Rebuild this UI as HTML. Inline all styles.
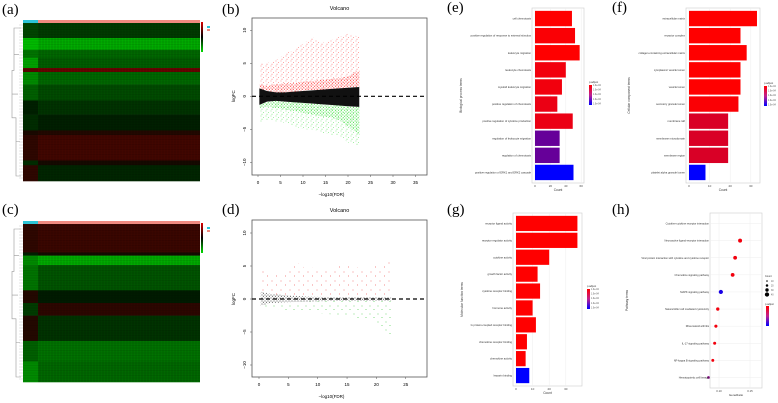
<!DOCTYPE html>
<html><head><meta charset="utf-8"><style>
html,body{margin:0;padding:0;background:#fff;}
svg{display:block;font-family:"Liberation Sans",sans-serif;}
.lab{font-family:"Liberation Serif",serif;font-size:15px;}
</style></head><body>
<svg id="fig" width="778" height="403" viewBox="0 0 778 403" xmlns="http://www.w3.org/2000/svg">
<defs>
<pattern id="pr" width="5" height="5" patternUnits="userSpaceOnUse"><circle cx="1" cy="1" r="0.4" fill="#f33"/><circle cx="3.5" cy="2.5" r="0.4" fill="#f33"/><circle cx="2" cy="4.2" r="0.4" fill="#f33"/></pattern>
<pattern id="prd" width="3" height="3" patternUnits="userSpaceOnUse"><circle cx="1" cy="1" r="0.5" fill="#f11"/><circle cx="2.4" cy="2.2" r="0.5" fill="#f11"/></pattern>
<pattern id="pg" width="5" height="5" patternUnits="userSpaceOnUse"><circle cx="1" cy="1" r="0.4" fill="#3d3"/><circle cx="3.5" cy="2.5" r="0.4" fill="#3d3"/><circle cx="2" cy="4.2" r="0.4" fill="#3d3"/></pattern>
<pattern id="pgd" width="3" height="3" patternUnits="userSpaceOnUse"><circle cx="1" cy="1" r="0.5" fill="#2d2"/><circle cx="2.4" cy="2.2" r="0.5" fill="#2d2"/></pattern>
<pattern id="prs" width="9" height="9" patternUnits="userSpaceOnUse"><circle cx="2" cy="2" r="0.45" fill="#e55"/><circle cx="6.5" cy="6" r="0.45" fill="#e55"/></pattern>
<pattern id="pgs" width="8" height="8" patternUnits="userSpaceOnUse"><circle cx="2" cy="2" r="0.45" fill="#4c4"/><circle cx="6" cy="5.5" r="0.45" fill="#4c4"/></pattern>
<pattern id="pbk" width="3" height="3" patternUnits="userSpaceOnUse"><circle cx="1" cy="1" r="0.5" fill="#222"/><circle cx="2.4" cy="2.2" r="0.5" fill="#222"/></pattern>
<linearGradient id="pgrad" x1="0" y1="0" x2="0" y2="1"><stop offset="0" stop-color="#f00"/><stop offset="0.5" stop-color="#c0208f"/><stop offset="1" stop-color="#00f"/></linearGradient>
<linearGradient id="hgrad" x1="0" y1="0" x2="0" y2="1"><stop offset="0" stop-color="#d00"/><stop offset="0.5" stop-color="#000"/><stop offset="1" stop-color="#0d0"/></linearGradient>
</defs>
<text class="lab" x="2" y="14">(a)</text>
<text class="lab" x="2" y="214">(c)</text>
<text class="lab" x="222" y="14">(b)</text>
<text class="lab" x="222" y="214">(d)</text>
<text class="lab" x="447" y="12">(e)</text>
<text class="lab" x="612" y="12">(f)</text>
<text class="lab" x="447" y="214">(g)</text>
<text class="lab" x="612" y="214">(h)</text>
</svg>
<script>
// ---------- data ----------
const heatAStops=[0,0.095,0.17,0.22,0.285,0.31,0.39,0.49,0.58,0.68,0.71,0.87,0.9,1];
const heatAVals=[-0.3,-0.85,-0.55,-0.5,0.7,-0.55,-0.4,-0.25,-0.1,0.2,0.45,0.05,-0.15];
const heatANormal=[-0.35,-0.9,-0.6,-0.8,0.6,-0.7,-0.5,-0.1,-0.2,0.1,0.3,-0.2,0.3];
const heatCStops=[0,0.18,0.2,0.26,0.42,0.5,0.58,0.74,0.87,1];
const heatCVals=[0.4,0,-0.85,-0.45,-0.05,0.3,-0.25,-0.6,-0.55];
const heatCNormal=[0.3,-0.1,-0.7,-0.6,0.2,-0.3,0.2,-0.5,-0.7];
const volBx=[0.3,2,4,6,8,10,12,14,16,18,20,22.5];
const volBRedTop=[5,5,5.5,6.5,7,8,9,8,8.5,9,9.5,9];
const volBRedDense=[1.8,1.6,1.8,2,2,2.2,2.3,2.5,2.6,2.8,3,4];
const volBBlackTop=[1.2,0.8,0.6,0.6,0.7,0.8,0.9,1,1.1,1.2,1.3,1.4];
const volBBlackBot=[-1.3,-0.8,-0.7,-0.8,-0.9,-1,-1.1,-1.2,-1.3,-1.4,-1.5,-1.6];
const volBGreenDense=[-1.8,-1.5,-1.8,-2,-2.2,-2.5,-2.8,-3,-3.2,-3.6,-4.5,-6];
const volBGreenBot=[-4,-3.5,-3.8,-4,-4.5,-5,-5,-5.5,-5.8,-6,-7,-7.5];
const volDx=[0.3,2,4,6,8,10,12,14,16,18,20,22.5];
const volDRedTop=[5.5,3.5,4,6,4.5,5,4,5.5,5,4.5,5,6];
const volDBlackTop=[1.1,0.8,0.6,0.5,0.4,0.35,0.3,0.3,0.3,0.3,0.3,0.3];
const volDBlackBot=[-1,-0.6,-0.5,-0.45,-0.4,-0.35,-0.3,-0.3,-0.3,-0.3,-0.3,-0.3];
const volDGreenBot=[-1.5,-1.4,-1.6,-1.8,-2,-2.2,-2.3,-2.5,-2.8,-3,-3.5,-5.5];
const eTerms=["cell chemotaxis","positive regulation of response to external stimulus","leukocyte migration","leukocyte chemotaxis","myeloid leukocyte migration","positive regulation of chemotaxis","positive regulation of cytokine production","regulation of leukocyte migration","regulation of chemotaxis","positive regulation of ERK1 and ERK2 cascade"];
const eCounts=[48,52,58,40,35,29,49,32,32,50];
const ePadj=[0,0.02,0,0.05,0.05,0.08,0.08,0.6,0.6,1];
const eTicks=[0,20,40,60];
const fTerms=["extracellular matrix","receptor complex","collagen-containing extracellular matrix","cytoplasmic vesicle lumen","vesicle lumen","secretory granule lumen","membrane raft","membrane microdomain","membrane region","platelet alpha granule lumen"];
const fCounts=[33,25,28,25,25,24,19,19,19,8];
const fPadj=[0,0,0,0,0,0.02,0.15,0.15,0.15,1];
const fTicks=[0,10,20,30];
const gTerms=["receptor ligand activity","receptor regulator activity","cytokine activity","growth factor activity","cytokine receptor binding","hormone activity","G protein-coupled receptor binding","chemokine receptor binding","chemokine activity","heparin binding"];
const gCounts=[37,37,20,13,14.5,10,12,6.6,5.8,8];
const gPadj=[0,0,0,0,0,0,0,0,0,1];
const gTicks=[0,10,20,30];
const hTerms=["Cytokine-cytokine receptor interaction","Neuroactive ligand-receptor interaction","Viral protein interaction with cytokine and cytokine receptor","Chemokine signaling pathway","MAPK signaling pathway","Natural killer cell mediated cytotoxicity","Rheumatoid arthritis","IL-17 signaling pathway","NF-kappa B signaling pathway","Hematopoietic cell lineage"];
const hRatio=[0.235,0.134,0.126,0.122,0.103,0.098,0.095,0.093,0.09,0.083];
const hCount=[50,22,20,20,25,16,14,13,12,10];
const hPadj=[0.05,0.05,0.05,0.05,0.9,0.05,0.05,0.05,0.05,0.5];
const hTicks=[0.1,0.15,0.2];
const hTickLabels=["0.10","0.15","0.20"];

// ---------- helpers ----------
const NS="http://www.w3.org/2000/svg";
const svg=document.getElementById('fig');
function mk(tag,attrs,parent){const e=document.createElementNS(NS,tag);for(const k in attrs)e.setAttribute(k,attrs[k]);(parent||svg).appendChild(e);return e;}
function txt(s,attrs,parent){const e=mk('text',attrs,parent);e.textContent=s;return e;}
function heatColor(v){const a=Math.min(1,Math.abs(v));const p=Math.pow(a,1.4);return v>=0?`rgb(${Math.round(20+140*p)},${Math.round(10*(1-a))},0)`:`rgb(0,${Math.round(25+185*p)},0)`;}
function padjColor(p){return `rgb(${Math.round(255*(1-p))},0,${Math.round(255*p)})`;}

// ---------- heatmaps ----------
function heatmap(y0,y1,stops,vals,normal,name){
  const g=mk('g',{});
  
  
  const x0=23,xn=38,x1=200,h=y1-y0;
  mk('rect',{x:x0,y:y0-3,width:xn-x0,height:3,fill:'#2cc4d6'},g);
  mk('rect',{x:xn,y:y0-3,width:x1-xn,height:3,fill:'#f08a80'},g);
  for(let i=0;i<vals.length;i++){
    const ya=y0+stops[i]*h,yb=y0+stops[i+1]*h;
    const r=mk('rect',{x:xn,y:ya,width:x1-xn,height:yb-ya+0.3,fill:heatColor(vals[i])},g);
    
    
    mk('rect',{x:x0,y:ya,width:xn-x0,height:yb-ya+0.3,fill:heatColor(normal[i])},g);
  }
  for(let x=xn+2;x<x1;x+=3){mk('line',{x1:x,y1:y0,x2:x,y2:y1,stroke:'#000','stroke-width':0.6,opacity:0.2},g);}
  for(let y=y0+1.5;y<y1;y+=2.5){mk('line',{x1:x0,y1:y,x2:x1,y2:y,stroke:'#000','stroke-width':0.5,opacity:0.15},g);}
  const d=`M21 ${y0+5} H14 V${y0+h*0.3} H12 V${y0+h*0.6} H16 V${y1-5} H21 M14 ${y0+h*0.2} H19 M16 ${y0+h*0.75} H20 M12 ${y0+h*0.45} H18`;
  mk('path',{d:d,stroke:'#999',fill:'none','stroke-width':0.6},g);
  for(let y=y0+2;y<y1;y+=3){mk('line',{x1:19,y1:y,x2:23,y2:y,stroke:'#aaa','stroke-width':0.3},g);}
  mk('rect',{x:201,y:y0-1,width:2,height:30,fill:'url(#hgrad)'},g);
  mk('rect',{x:207,y:y0+3,width:3,height:2,fill:'#2cc4d6'},g);
  mk('rect',{x:207,y:y0+6,width:3,height:2,fill:'#f08a80'},g);
}
heatmap(23,181,heatAStops,heatAVals,heatANormal,'heatmap-a');
heatmap(224,382,heatCStops,heatCVals,heatCNormal,'heatmap-c');

// ---------- volcanoes ----------
function volcano(cfg){
  const g=mk('g',{});
  
  
  const xs=v=>cfg.x0px+v*cfg.xs, ys=v=>cfg.y0px-v*cfg.ys;
  mk('rect',{x:cfg.L,y:cfg.T,width:cfg.R-cfg.L,height:cfg.B-cfg.T,fill:'none',stroke:'#555','stroke-width':0.8},g);
  const t=txt('Volcano',{x:(cfg.L+cfg.R)/2,y:cfg.T-8,'font-size':5.5,'text-anchor':'middle'},g);
  
  const yl=txt('logFC',{x:0,y:0,'font-size':4.5,'text-anchor':'middle',transform:`translate(${cfg.L-17},${ys(0)}) rotate(-90)`},g);
  
  const xl=txt('\u2212log10(FDR)',{x:(cfg.L+cfg.R)/2-8,y:cfg.B+21,'font-size':4.5,'text-anchor':'middle'},g);
  
  cfg.xticks.forEach(v=>{mk('line',{x1:xs(v),y1:cfg.B,x2:xs(v),y2:cfg.B+2,stroke:'#555','stroke-width':0.5},g);txt(String(v),{x:xs(v),y:cfg.B+9,'font-size':4.5,'text-anchor':'middle'},g);});
  [-10,-5,0,5,10].forEach(v=>{mk('line',{x1:cfg.L-2,y1:ys(v),x2:cfg.L,y2:ys(v),stroke:'#555','stroke-width':0.5},g);txt(v<0?'\u2212'+(-v):String(v),{x:0,y:0,'font-size':4.5,'text-anchor':'middle',transform:`translate(${cfg.L-6},${ys(v)}) rotate(-90)`},g);});
  function band(top,bot,fill,nm){
    let d='M'+cfg.X.map((x,i)=>xs(x)+' '+ys(top[i])).join(' L');
    d+=' L'+cfg.X.slice().reverse().map((x,i)=>xs(x)+' '+ys(bot[bot.length-1-i])).join(' L')+'Z';
    const p=mk('path',{d:d,fill:fill},g);
    
  }
  cfg.bands.forEach(b=>band(b[0],b[1],b[2],b[3]));
  mk('line',{x1:cfg.L,y1:ys(0),x2:cfg.R,y2:ys(0),stroke:'#000','stroke-width':1.2,'stroke-dasharray':'4 3'},g);
}
volcano({name:'volcano-b',L:252,R:427,T:18,B:175,x0px:258,xs:4.5,y0px:96.3,ys:6.6,xticks:[0,5,10,15,20,25,30,35],X:volBx,
  bands:[[volBRedTop,volBBlackTop,'url(#pr)','up-points'],[volBRedDense,volBBlackTop,'url(#prd)','up-points-dense'],
         [volBBlackBot,volBGreenBot,'url(#pg)','down-points'],[volBBlackBot,volBGreenDense,'url(#pgd)','down-points-dense'],
         [volBBlackTop,volBBlackBot,'#111','nonsig-points']]});
volcano({name:'volcano-d',L:252,R:427,T:220,B:377,x0px:259,xs:5.87,y0px:299,ys:6.6,xticks:[0,5,10,15,20,25],X:volDx,
  bands:[[volDRedTop,volDBlackTop,'url(#prs)','up-points'],[volDBlackBot,volDGreenBot,'url(#pgs)','down-points'],
         [volDBlackTop,volDBlackBot,'url(#pbk)','nonsig-points']]});

// ---------- bar charts ----------
function barChart(cfg){
  const g=mk('g',{});
  
  
  const xs=v=>cfg.x0+v*cfg.sc;
  mk('rect',{x:cfg.L,y:cfg.T,width:cfg.R-cfg.L,height:cfg.B-cfg.T,fill:'#fff',stroke:'#ccc','stroke-width':0.6},g);
  cfg.ticks.forEach(v=>{mk('line',{x1:xs(v),y1:cfg.T,x2:xs(v),y2:cfg.B,stroke:'#eee','stroke-width':0.5},g);
    txt(String(v),{x:xs(v),y:cfg.B+4,'font-size':3,'text-anchor':'middle',fill:'#444'},g);});
  const step=(cfg.B-cfg.T-4)/cfg.terms.length;
  cfg.terms.forEach((t,i)=>{
    const cy=cfg.T+2+step*(i+0.5);
    const r=mk('rect',{x:xs(0),y:cy-step*0.45,width:cfg.counts[i]*cfg.sc,height:step*0.9,fill:padjColor(cfg.padj[i])},g);
    
    
    txt(t,{x:cfg.L-1,y:cy+1,'font-size':2.7,'text-anchor':'end',fill:'#333'},g);
  });
  const xl=txt('Count',{x:(cfg.L+cfg.R)/2,y:cfg.B+8,'font-size':3.2,'text-anchor':'middle',fill:'#333'},g);
  
  const yl=txt(cfg.ytitle,{x:0,y:0,'font-size':3.2,'text-anchor':'middle',fill:'#333',transform:`translate(${cfg.yx},${(cfg.T+cfg.B)/2}) rotate(-90)`},g);
  
  const lg=mk('g',{},g);
  txt('p.adjust',{x:cfg.lx,y:cfg.ly-2,'font-size':2.6,fill:'#333'},lg);
  mk('rect',{x:cfg.lx,y:cfg.ly,width:3,height:20,fill:'url(#pgrad)'},lg);
  for(let k=0;k<5;k++)txt('1.0e-04',{x:cfg.lx+4,y:cfg.ly+1+k*4.6,'font-size':2.3,fill:'#555'},lg);
}
barChart({name:'go-bp-bars',L:532,R:584,T:8,B:183,x0:535,sc:0.77,ticks:eTicks,terms:eTerms,counts:eCounts,padj:ePadj,ytitle:'Biological process terms',yx:462,lx:589,ly:85});
barChart({name:'go-cc-bars',L:686,R:760,T:8,B:183,x0:689,sc:2.06,ticks:fTicks,terms:fTerms,counts:fCounts,padj:fPadj,ytitle:'Cellular component terms',yx:630,lx:764,ly:86});
barChart({name:'go-mf-bars',L:513,R:582,T:213,B:386,x0:516,sc:1.66,ticks:gTicks,terms:gTerms,counts:gCounts,padj:gPadj,ytitle:'Molecular function terms',yx:463,lx:587,ly:289});

// ---------- KEGG dot plot ----------
(function(){
  const g=mk('g',{});
  
  
  const L=710,R=762,T=213,B=388;
  const xs=v=>719+(v-0.1)*620;
  mk('rect',{x:L,y:T,width:R-L,height:B-T,fill:'#fff',stroke:'#ccc','stroke-width':0.6},g);
  hTicks.forEach((v,i)=>{mk('line',{x1:xs(v),y1:T,x2:xs(v),y2:B,stroke:'#eee','stroke-width':0.5},g);
    txt(hTickLabels[i],{x:xs(v),y:B+4,'font-size':2.8,'text-anchor':'middle',fill:'#444'},g);});
  const step=(B-T-4)/hTerms.length;
  hTerms.forEach((t,i)=>{
    const cy=T+2+step*(i+0.5);
    mk('line',{x1:L,y1:cy,x2:R,y2:cy,stroke:'#eee','stroke-width':0.5},g);
    const c=mk('circle',{cx:xs(hRatio[i]),cy:cy,r:Math.sqrt(hCount[i])*0.42,fill:padjColor(hPadj[i])},g);
    
    
    txt(t,{x:L-1,y:cy+1,'font-size':2.6,'text-anchor':'end',fill:'#333'},g);
  });
  txt('GeneRatio',{x:(L+R)/2,y:B+8,'font-size':3,'text-anchor':'middle',fill:'#333'},g);
  txt('Pathway terms',{x:0,y:0,'font-size':3.2,'text-anchor':'middle',fill:'#333',transform:`translate(628,${(T+B)/2}) rotate(-90)`},g);
  const lg=mk('g',{},g);
  txt('Count',{x:765,y:277,'font-size':2.5,fill:'#333'},lg);
  [10,20,30,40].forEach((v,k)=>{mk('circle',{cx:767,cy:281+k*4.5,r:0.8+k*0.45,fill:'#000'},lg);txt(String(v),{x:771,y:282+k*4.5,'font-size':2.3,fill:'#555'},lg);});
  const lg2=mk('g',{},g);
  txt('p.adjust',{x:765,y:305,'font-size':2.5,fill:'#333'},lg2);
  mk('rect',{x:766,y:306,width:3,height:20,fill:'url(#pgrad)'},lg2);
})();
</script>
</body></html>
